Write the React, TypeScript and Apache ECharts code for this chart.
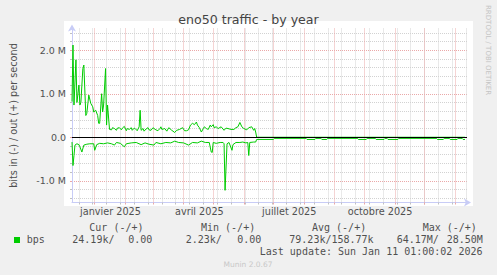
import React, { useEffect, useRef } from 'react';
import * as echarts from 'echarts';

const START = Date.UTC(2024, 11, 9);
const DAY = 86400000;
const dayOf = (y: number, m: number, d: number) => (Date.UTC(y, m, d) - START) / DAY;

// x axis (days since 9 Dec 2024)
const X_MIN = 0;
const X_MAX = 400;
const xLabelTexts = ['janvier 2025', 'avril 2025', 'juillet 2025', 'octobre 2025'];
const xLabelDays = [dayOf(2025, 0, 17), dayOf(2025, 3, 17), dayOf(2025, 6, 17), dayOf(2025, 9, 17)];
const monthStartDays = [
  dayOf(2025, 0, 1), dayOf(2025, 1, 1), dayOf(2025, 2, 1), dayOf(2025, 3, 1), dayOf(2025, 4, 1),
  dayOf(2025, 5, 1), dayOf(2025, 6, 1), dayOf(2025, 7, 1), dayOf(2025, 8, 1), dayOf(2025, 9, 1),
  dayOf(2025, 10, 1), dayOf(2025, 11, 1), dayOf(2026, 0, 1),
];
const biweeklyDays = Array.from({ length: 29 }, (_, i) => 7 + 14 * i);

// y axis (Mbit/s)
const Y_MIN = -1.5;
const Y_MAX = 2.5;
const yMajorTicks = [-1, 0, 1, 2];
const yMinorTicks = [-1.4, -1.2, -1.0, -0.8, -0.6, -0.4, -0.2, 0, 0.2, 0.4, 0.6, 0.8, 1.0, 1.2, 1.4, 1.6, 1.8, 2.0, 2.2, 2.4];

// out (+) samples: [day, Mbit/s]
const outSamples: [number, number][] = [
  [0, 0.82], [1, 2.12], [2, 0.74], [4, 1.78], [5, 0.8], [7, 1.2], [8, 0.74], [9, 0.8], [11, 1.58], [12, 1.66],
  [14, 0.5], [15, 0.55], [17, 0.97], [19, 0.78], [21, 0.7], [22, 0.58], [24, 0.62], [26, 0.5], [27, 0.32], [28, 0.32],
  [30, 1.0], [31, 0.58], [32, 0.74], [34, 1.58], [35, 0.28], [36, 0.74], [38, 0.18], [40, 0.17], [41, 0.22], [43, 0.2],
  [45, 0.16], [46, 0.21], [48, 0.22], [50, 0.17], [51, 0.21], [53, 0.25], [55, 0.15], [56, 0.2], [58, 0.18], [60, 0.22],
  [61, 0.16], [63, 0.21], [64, 0.2], [66, 0.15], [68, 0.24], [69, 0.62], [70, 0.16], [72, 0.2], [73, 0.14], [75, 0.19],
  [77, 0.22], [78, 0.17], [80, 0.16], [82, 0.22], [83, 0.2], [85, 0.17], [87, 0.15], [89, 0.2], [90, 0.24], [91, 0.18],
  [94, 0.2], [96, 0.14], [98, 0.22], [101, 0.16], [104, 0.11], [106, 0.16], [109, 0.18], [112, 0.22], [114, 0.15],
  [116, 0.15], [118, 0.17], [120, 0.28], [122, 0.32], [124, 0.29], [126, 0.35], [127, 0.28], [129, 0.22], [131, 0.12],
  [133, 0.2], [134, 0.24], [136, 0.2], [138, 0.18], [140, 0.28], [141, 0.24], [143, 0.29], [144, 0.22], [146, 0.24],
  [148, 0.2], [151, 0.24], [154, 0.16], [156, 0.21], [158, 0.2], [161, 0.18], [164, 0.18], [166, 0.22], [168, 0.24],
  [170, 0.34], [172, 0.24], [174, 0.2], [177, 0.17], [179, 0.22], [182, 0.24], [184, 0.16], [185, 0.2], [186, 0.12],
  [187, 0], [398, 0],
];

// in (-) samples: [day, Mbit/s]
const inSamples: [number, number][] = [
  [0, -0.11], [1, -0.65], [2, -0.42], [3, -0.18], [5, -0.15], [7, -0.17], [8, -0.22], [10, -0.34], [12, -0.18],
  [15, -0.16], [18, -0.15], [22, -0.15], [23, -0.3], [25, -0.17], [28, -0.14], [32, -0.15], [36, -0.13], [40, -0.15],
  [43, -0.18], [45, -0.12], [49, -0.14], [53, -0.22], [55, -0.15], [60, -0.13], [65, -0.12], [70, -0.17], [74, -0.13],
  [78, -0.16], [83, -0.18], [85, -0.12], [90, -0.15], [95, -0.12], [100, -0.13], [104, -0.09], [108, -0.12],
  [113, -0.13], [118, -0.18], [122, -0.12], [127, -0.13], [131, -0.09], [135, -0.12], [139, -0.12], [141, -0.34],
  [142, -0.35], [143, -0.12], [146, -0.14], [150, -0.12], [153, -0.12], [154, -0.15], [155, -1.22], [157, -0.15],
  [159, -0.12], [162, -0.3], [163, -0.17], [166, -0.12], [170, -0.12], [173, -0.11], [176, -0.13], [178, -0.12],
  [179, -0.42], [180, -0.12], [184, -0.11], [186, -0.11],
  [187, -0.05], [204, -0.05], [205, -0.025], [237, -0.025], [238, -0.05], [246, -0.05], [247, -0.025], [252, -0.025],
  [253, -0.05], [258, -0.05], [259, -0.025], [289, -0.025], [290, -0.05], [298, -0.05], [299, -0.025], [307, -0.025],
  [308, -0.05], [316, -0.05], [317, -0.025], [319, -0.025], [320, -0.05], [330, -0.05], [331, -0.025], [369, -0.025],
  [370, -0.05], [376, -0.05], [377, -0.025], [382, -0.025], [383, -0.05], [390, -0.05], [391, -0.025], [395, -0.025],
  [396, -0.05], [398, -0.05],
];

const titleText = 'eno50 traffic - by year';
const yAxisTitle = 'bits in (-) / out (+) per second';
const legendHeaders = ['Cur (-/+)', 'Min (-/+)', 'Avg (-/+)', 'Max (-/+)'];
const legendSeriesName = 'bps';
const legendValues = ['24.19k/', '0.00', '2.23k/', '0.00', '79.23k/158.77k', '64.17M/', '28.50M'];
const lastUpdate = 'Last update: Sun Jan 11 01:00:02 2026';
const footer = 'Munin 2.0.67';
const sideNote = 'RRDTOOL / TOBI OETIKER';

const GREEN = '#00cc00';
const AXIS = '#c8ccf6';
const MINOR = '#d2d2d2';
const MAJOR = '#eaa8a8';
const TEXT = '#505050';
const SANS = 'DejaVu Sans';
const MONO = 'DejaVu Sans Mono';

const GRID = { left: 67, top: 28.5, width: 400, height: 174 };

function fmtY(v: number) {
  if (Math.abs(v) < 1e-9) return '0.0';
  return `${v.toFixed(1)} M`;
}

export default function App() {
  const ref = useRef<HTMLDivElement>(null);
  useEffect(() => {
    document.body.style.margin = '0';
    const chart = echarts.init(ref.current!, null, { renderer: 'svg' });
    const headerX = [89.3, 201, 312, 422.7];
    const valueX = [72.3, 128.3, 185.7, 237.3, 289.3, 396.7, 446.7];
    const monoText = (text: string, x: number, y: number, align = 'left') => ({
      type: 'text',
      x,
      y,
      style: { text, fill: TEXT, font: `10px '${MONO}'`, textAlign: align, textVerticalAlign: 'middle' },
    });
    const option: any = {
      animation: false,
      backgroundColor: '#f0f0f0',
      grid: { ...GRID, containLabel: false },
      xAxis: [
        {
          type: 'value', min: X_MIN, max: X_MAX, position: 'bottom',
          axisLine: { show: true, onZero: false, lineStyle: { color: AXIS, width: 1 }, symbol: ['none', 'arrow'], symbolSize: [6, 7], symbolOffset: [0, 4] },
          axisTick: { show: true, customValues: biweeklyDays, length: 2, lineStyle: { color: '#c0c0c0' } },
          axisLabel: { show: false },
          splitLine: { show: true, lineStyle: { color: MINOR, type: [1, 1], width: 1 } },
        },
        {
          type: 'value', min: X_MIN, max: X_MAX, position: 'bottom',
          axisLine: { show: false, onZero: false },
          axisTick: { show: true, customValues: monthStartDays, length: 2, lineStyle: { color: MAJOR } },
          axisLabel: { show: false },
          splitLine: { show: true, lineStyle: { color: MAJOR, type: [1, 1], width: 1 } },
        },
        {
          type: 'value', min: X_MIN, max: X_MAX, position: 'bottom',
          axisLine: { show: false, onZero: false },
          axisTick: { show: false },
          axisLabel: {
            show: true, customValues: xLabelDays, margin: 4, color: TEXT, fontSize: 9.7, fontFamily: SANS,
            formatter: (v: number) => {
              const i = xLabelDays.findIndex((d) => Math.abs(d - v) < 0.01);
              return i >= 0 ? xLabelTexts[i] : '';
            },
          },
          splitLine: { show: false },
        },
      ],
      yAxis: [
        {
          type: 'value', min: Y_MIN, max: Y_MAX, position: 'left',
          axisLine: { show: true, onZero: false, lineStyle: { color: AXIS, width: 1 }, symbol: ['none', 'arrow'], symbolSize: [6, 7], symbolOffset: [0, 4] },
          axisTick: { show: true, customValues: yMinorTicks, length: 2, lineStyle: { color: '#c0c0c0' } },
          axisLabel: { show: false },
          splitLine: { show: true, lineStyle: { color: MINOR, type: [1, 1], width: 1 } },
          name: yAxisTitle, nameLocation: 'middle', nameGap: 54,
          nameTextStyle: { color: TEXT, fontSize: 9.7, fontFamily: SANS },
        },
        {
          type: 'value', min: Y_MIN, max: Y_MAX, position: 'left',
          axisLine: { show: false, onZero: false },
          axisTick: { show: true, customValues: yMajorTicks, length: 2, lineStyle: { color: MAJOR } },
          axisLabel: { show: true, customValues: yMajorTicks, margin: 6, color: TEXT, fontSize: 9.5, fontFamily: SANS, formatter: fmtY },
          splitLine: { show: true, lineStyle: { color: MAJOR, type: [1, 1], width: 1 } },
        },
      ],
      series: [
        {
          name: 'in', type: 'line', xAxisIndex: 0, yAxisIndex: 0, data: inSamples,
          showSymbol: false, symbol: 'none', lineStyle: { color: GREEN, width: 1 }, z: 3,
        },
        {
          name: 'out', type: 'line', xAxisIndex: 0, yAxisIndex: 0, data: outSamples,
          showSymbol: false, symbol: 'none', lineStyle: { color: GREEN, width: 1 }, z: 3,
          markLine: {
            silent: true, symbol: ['none', 'none'], label: { show: false },
            lineStyle: { color: '#000', type: 'solid', width: 1 },
            data: [{ yAxis: 0 }], z: 4,
          },
        },
      ],
      graphic: [
        { type: 'rect', z: -10, shape: { x: 64, y: 21, width: 409, height: 185 }, style: { fill: '#ffffff' } },
        {
          type: 'text', x: 248.5, y: 19.5,
          style: { text: titleText, fill: '#444', font: `12.6px '${SANS}'`, textAlign: 'center', textVerticalAlign: 'middle' },
        },
        {
          type: 'text', x: 487.5, y: 5, rotation: -Math.PI / 2,
          style: { text: sideNote, fill: '#c4c4c4', font: `7px '${SANS}'`, textAlign: 'left', textVerticalAlign: 'middle' },
        },
        ...legendHeaders.map((h, i) => monoText(h, headerX[i], 227.7)),
        { type: 'rect', shape: { x: 14, y: 237, width: 6, height: 6 }, style: { fill: GREEN } },
        monoText(legendSeriesName, 26.7, 239.5),
        ...legendValues.map((v, i) => monoText(v, valueX[i], 239.5)),
        monoText(lastUpdate, 482.5, 251, 'right'),
        {
          type: 'text', x: 248, y: 264,
          style: { text: footer, fill: '#c8c8c8', font: `7.5px '${SANS}'`, textAlign: 'center', textVerticalAlign: 'middle' },
        },
      ],
    };
    chart.setOption(option);
    return () => chart.dispose();
  }, []);
  return <div ref={ref} style={{ width: 497, height: 275 }} />;
}
